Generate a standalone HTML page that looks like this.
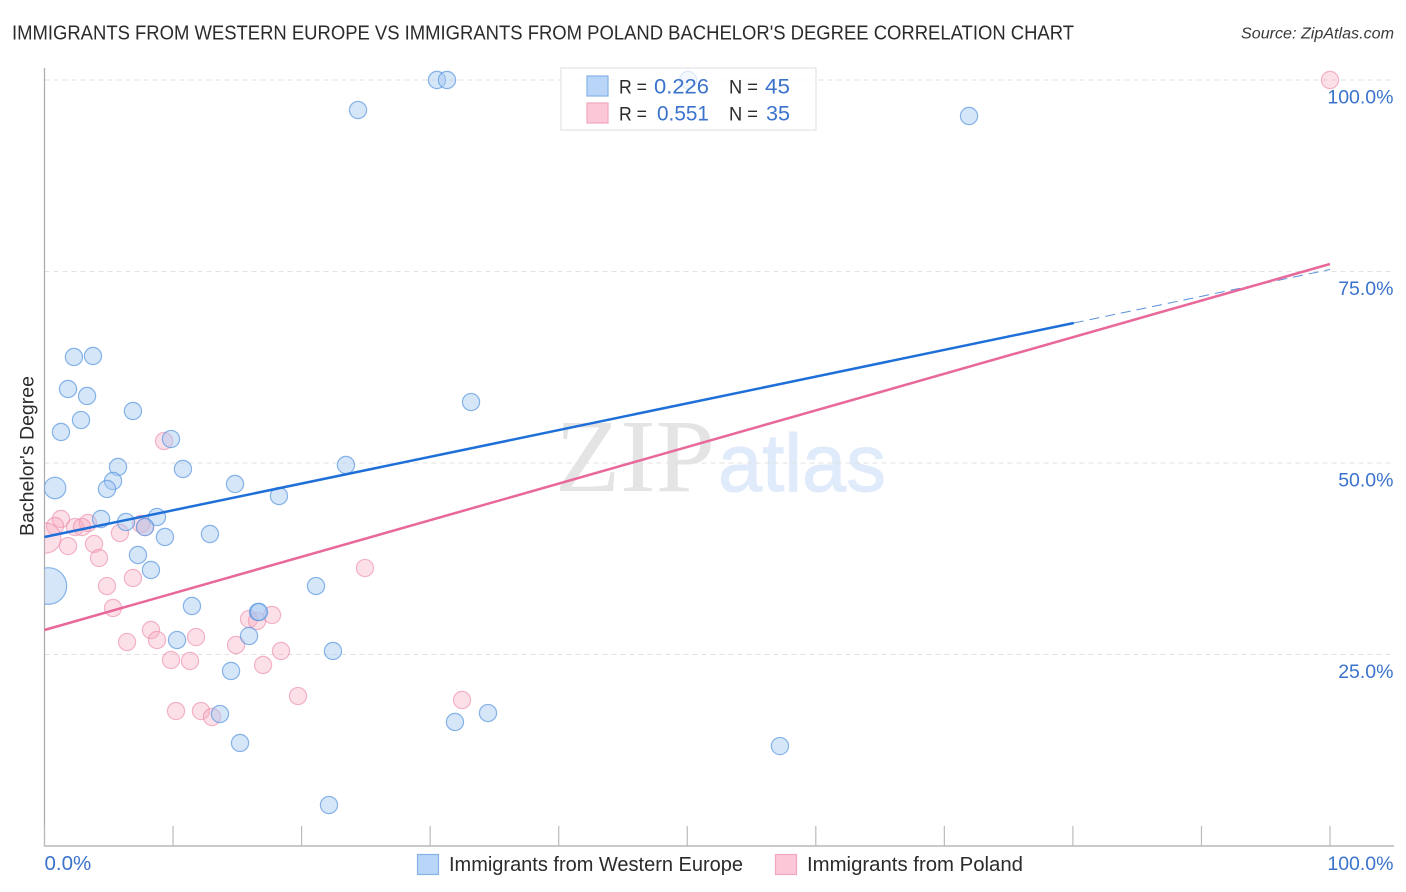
<!DOCTYPE html>
<html lang="en">
<head>
<meta charset="utf-8">
<title>Immigrants from Western Europe vs Immigrants from Poland Bachelor's Degree Correlation Chart</title>
<style>
html,body{margin:0;padding:0;background:#fff;width:1406px;height:892px;overflow:hidden}
svg{display:block;font-family:"Liberation Sans",sans-serif}
</style>
</head>
<body>
<svg id="chart" xmlns="http://www.w3.org/2000/svg" width="1406" height="892" viewBox="0 0 1406 892">
  <defs>
    <clipPath id="plot-clip"><rect x="44.5" y="60" width="1350" height="786"/></clipPath>
  </defs>
  <text x="12" y="39.5" font-size="20" fill="#2b2b2b" textLength="1062" lengthAdjust="spacingAndGlyphs">IMMIGRANTS FROM WESTERN EUROPE VS IMMIGRANTS FROM POLAND BACHELOR'S DEGREE CORRELATION CHART</text>
  <text x="1241" y="38.5" font-size="15.5" font-style="italic" fill="#3a3a3a" textLength="153" lengthAdjust="spacingAndGlyphs">Source: ZipAtlas.com</text>

  <g>
    <text x="555" y="491" font-family="'Liberation Serif',serif" font-size="104" fill="#e4e4e4" textLength="160" lengthAdjust="spacingAndGlyphs">ZIP</text>
    <text x="718" y="491" font-size="82" fill="#dfeafa" stroke="#dfeafa" stroke-width="1" textLength="168" lengthAdjust="spacingAndGlyphs">atlas</text>
  </g>

  <g id="grid"></g>
  <g id="axes"></g>
  <g id="pink-points" clip-path="url(#plot-clip)"></g>
  <g id="blue-points" clip-path="url(#plot-clip)"></g>
  <g id="trends"></g>
  <g id="tick-labels"></g>

  <text transform="translate(33.5,536) rotate(-90)" font-size="19.5" fill="#2b2b2b" textLength="160" lengthAdjust="spacingAndGlyphs">Bachelor's Degree</text>

  <g>
    <rect x="561" y="68" width="255" height="62" fill="#fff" fill-opacity="0.72" stroke="#e2e2e2" stroke-width="1.2"/>
    <rect x="587" y="76" width="21" height="20" fill="#b9d5f7" stroke="#86b2e8" stroke-width="1.2"/>
    <rect x="587" y="103" width="21" height="20" fill="#fcc8d8" stroke="#f3a6bf" stroke-width="1.2"/>
    <text x="619" y="93.5" font-size="19.5" fill="#2b2b2b" textLength="28" lengthAdjust="spacingAndGlyphs">R =</text>
    <text x="654" y="93.5" font-size="21" fill="#3b73cc" textLength="55" lengthAdjust="spacingAndGlyphs">0.226</text>
    <text x="729" y="93.5" font-size="19.5" fill="#2b2b2b" textLength="29" lengthAdjust="spacingAndGlyphs">N =</text>
    <text x="765" y="93.5" font-size="21" fill="#3b73cc" textLength="25" lengthAdjust="spacingAndGlyphs">45</text>
    <text x="619" y="120.5" font-size="19.5" fill="#2b2b2b" textLength="28" lengthAdjust="spacingAndGlyphs">R =</text>
    <text x="657" y="120.5" font-size="21" fill="#3b73cc" textLength="52" lengthAdjust="spacingAndGlyphs">0.551</text>
    <text x="729" y="120.5" font-size="19.5" fill="#2b2b2b" textLength="29" lengthAdjust="spacingAndGlyphs">N =</text>
    <text x="766" y="120.5" font-size="21" fill="#3b73cc" textLength="24" lengthAdjust="spacingAndGlyphs">35</text>
  </g>

  <g>
    <rect x="417.5" y="854.5" width="21" height="20" fill="#b9d5f7" stroke="#86b2e8" stroke-width="1.2"/>
    <text x="449" y="871" font-size="20" fill="#2b2b2b" textLength="294" lengthAdjust="spacingAndGlyphs">Immigrants from Western Europe</text>
    <rect x="775.5" y="854.5" width="21" height="20" fill="#fcc8d8" stroke="#f3a6bf" stroke-width="1.2"/>
    <text x="807" y="871" font-size="20" fill="#2b2b2b" textLength="216" lengthAdjust="spacingAndGlyphs">Immigrants from Poland</text>
  </g>
</svg>
<script>
const blueX = [24.39,30.53,31.31,50.06,71.92,2.29,3.77,1.83,3.31,6.88,2.84,1.28,9.84,5.72,10.77,5.33,4.86,0.82,14.82,23.45,18.24,33.18,4.40,8.75,6.34,7.82,9.37,12.87,7.27,8.28,0.3,21.12,11.47,16.61,16.69,15.91,10.31,22.44,14.51,13.65,31.93,34.50,15.21,57.21,22.13];
const blueY = [96.08,100,100,100,95.3,63.84,63.97,59.66,58.75,56.79,55.61,54.05,53.13,49.48,49.22,47.65,46.61,46.74,47.26,49.74,45.69,57.96,42.69,42.95,42.30,41.64,40.34,40.73,37.99,36.03,33.94,33.94,31.33,30.55,30.55,27.42,26.89,25.46,22.85,17.23,16.19,17.36,13.45,13.05,5.35];
const blueWeight = [1,1,1,1,1,1,1,1,1,1,1,1,1,1,1,1,1,1.25,1,1,1,1,1,1,1,1,1,1,1,1,2.13,1,1,1,1,1,1,1,1,1,1,1,1,1,1];
const pinkX = [100,9.30,1.28,0.82,0.1,2.37,3.38,2.92,1.83,3.85,5.87,4.24,6.88,4.86,7.51,7.82,24.93,5.33,15.91,16.53,17.70,8.28,6.42,8.75,11.79,14.90,18.40,9.84,11.32,17.00,19.72,32.48,10.23,12.17,13.03];
const pinkY = [100,52.87,42.69,41.78,40.2,41.64,42.17,41.64,39.16,39.43,40.86,37.60,34.99,33.94,42.04,41.64,36.29,31.07,29.63,29.37,30.16,28.20,26.63,26.89,27.28,26.24,25.46,24.28,24.15,23.63,19.58,19.06,17.62,17.62,16.84];
const pinkWeight = [1,1,1,1,1.75,1,1,1,1,1,1,1,1,1,1,1,1,1,1,1,1,1,1,1,1,1,1,1,1,1,1,1,1,1,1];
const blueTrendX = [0,80.07];
const blueTrendY = [40.34,68.28];
const blueDashX = [80.07,100];
const blueDashY = [68.28,75.26];
const pinkTrendX = [0,100];
const pinkTrendY = [28.2,75.98];
const yTickValues = [100,75,50,25];
const yTickLabels = ["100.0%","75.0%","50.0%","25.0%"];
const xTickValues = [0,10,20,30,40,50,60,70,80,90,100];
const xEndValues = [0,100];
const xEndLabels = ["0.0%","100.0%"];

const NS = "http://www.w3.org/2000/svg";
const sx = v => 44.5 + v * 12.855;
const sy = v => 846 - v * 7.66;
const BASE_R = 8.6;

function make(tag, parentId, attrs) {
  const el = document.createElementNS(NS, tag);
  for (const k in attrs) el.setAttribute(k, attrs[k]);
  document.getElementById(parentId).appendChild(el);
  return el;
}

yTickValues.forEach(v => {
  const el = make("line", "grid", {x1: 44.5, x2: 1394, y1: sy(v), y2: sy(v), stroke: "#e2e2e2", "stroke-width": 1, "stroke-dasharray": "5 4"});
  
  
});

const yAxis = make("line", "axes", {x1: 44.5, x2: 44.5, y1: 68, y2: 846, stroke: "#aaa", "stroke-width": 1.2});


const xAxis = make("line", "axes", {x1: 44, x2: 1394, y1: 846, y2: 846, stroke: "#aaa", "stroke-width": 1.2});


xTickValues.forEach(v => {
  const el = make("line", "axes", {x1: sx(v), x2: sx(v), y1: 826, y2: 846, stroke: "#bbb", "stroke-width": 1.2});
  
  
});

pinkX.forEach((x, i) => {
  const el = make("circle", "pink-points", {cx: sx(x), cy: sy(pinkY[i]), r: BASE_R * pinkWeight[i], fill: "#f8a8c0", "fill-opacity": 0.36, stroke: "#ec8aab", "stroke-opacity": 0.62, "stroke-width": 1.2});
  
  
});
blueX.forEach((x, i) => {
  const el = make("circle", "blue-points", {cx: sx(x), cy: sy(blueY[i]), r: BASE_R * blueWeight[i], fill: "#a6c9f3", "fill-opacity": 0.46, stroke: "#5c98e0", "stroke-opacity": 0.72, "stroke-width": 1.2});
  
  
});

const dash = make("line", "trends", {x1: sx(blueDashX[0]), y1: sy(blueDashY[0]), x2: sx(blueDashX[1]), y2: sy(blueDashY[1]), stroke: "#5a90d8", "stroke-width": 1, "stroke-dasharray": "10 6"});


const blueTrend = make("line", "trends", {x1: sx(blueTrendX[0]), y1: sy(blueTrendY[0]), x2: sx(blueTrendX[1]), y2: sy(blueTrendY[1]), stroke: "#1f6fd8", "stroke-width": 2.5});


const pinkTrend = make("line", "trends", {x1: sx(pinkTrendX[0]), y1: sy(pinkTrendY[0]), x2: sx(pinkTrendX[1]), y2: sy(pinkTrendY[1]), stroke: "#e8689a", "stroke-width": 2.5});



yTickValues.forEach((v, i) => {
  const el = make("text", "tick-labels", {x: 1393.5, y: sy(v) + 23.5, "text-anchor": "end", "font-size": 19.5, fill: "#3b73cc"});
  el.textContent = yTickLabels[i];
  
  
});
xEndValues.forEach((v, i) => {
  const el = make("text", "tick-labels", i === 0
    ? {x: sx(v), y: 870, "font-size": 20.5, fill: "#3b73cc"}
    : {x: 1393.5, y: 870, "text-anchor": "end", "font-size": 19.5, fill: "#3b73cc"});
  el.textContent = xEndLabels[i];
  
  
});
</script>
</body>
</html>
